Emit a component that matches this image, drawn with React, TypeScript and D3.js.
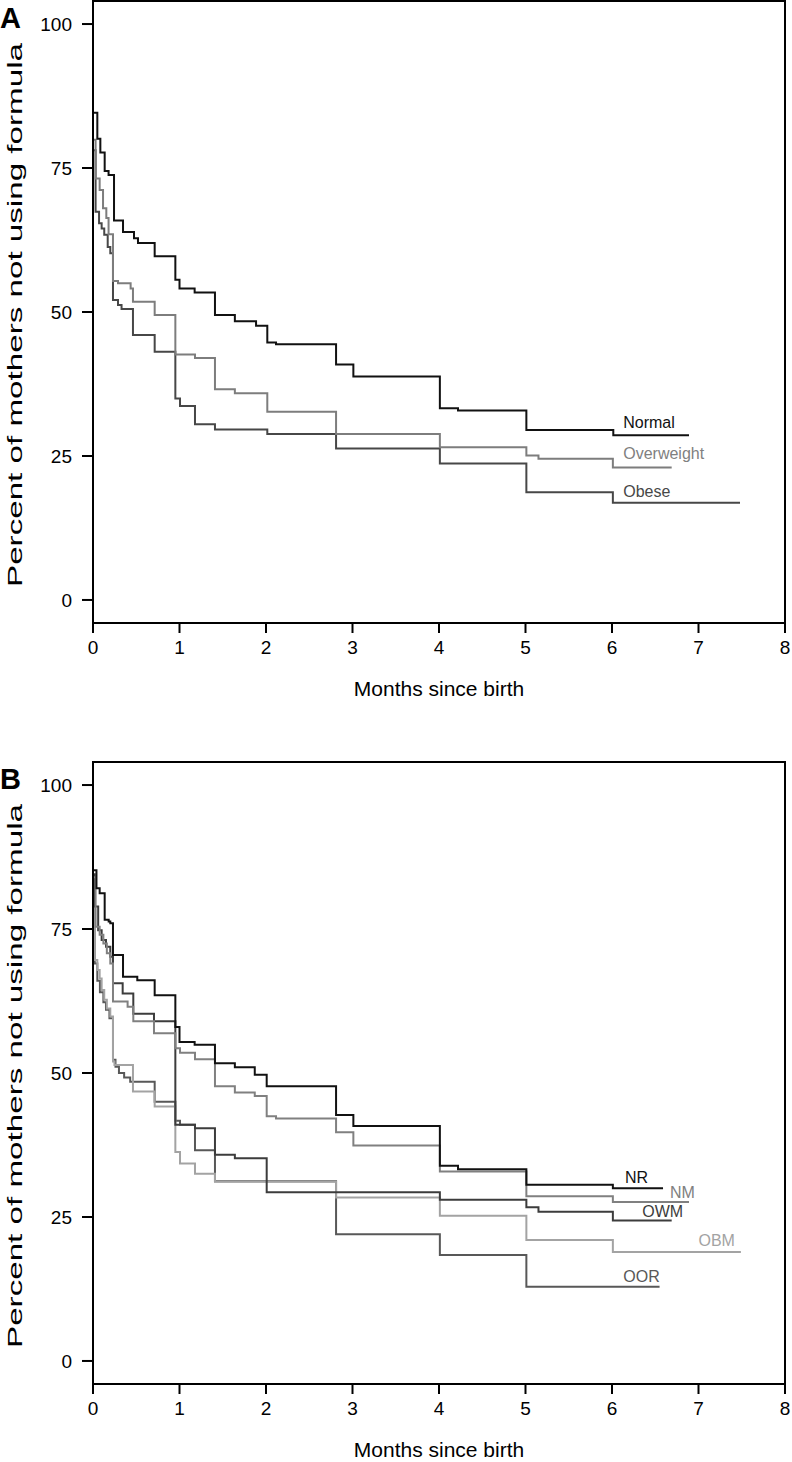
import React from "react";
import * as d3 from "d3";

// ---------- Data (months since birth, percent not using formula) ----------
const A_NORMAL_T = [0, 0.05, 0.085, 0.135, 0.18, 0.243, 0.347, 0.474, 0.52, 0.713, 0.952, 1.0, 1.175, 1.41, 1.64, 1.885, 2.015, 2.116, 2.81, 3.01, 4.01, 4.22, 5.01, 6.015, 6.89];
const A_NORMAL_V = [84.6, 80.1, 77.7, 74.5, 73.8, 65.9, 63.9, 62.8, 62.0, 59.7, 55.6, 54.1, 53.4, 49.5, 48.4, 47.6, 44.7, 44.4, 40.9, 38.8, 33.3, 32.9, 29.5, 28.6, 28.6];

const A_OVER_T = [0, 0.03, 0.077, 0.116, 0.154, 0.18, 0.231, 0.289, 0.435, 0.462, 0.713, 0.952, 1.179, 1.41, 1.64, 2.015, 2.81, 4.01, 5.01, 5.15, 6.01, 6.69];
const A_OVER_V = [79.9, 73.2, 71.2, 68.0, 66.3, 63.5, 55.4, 55.0, 54.1, 51.8, 49.5, 42.6, 42.0, 36.6, 35.9, 32.7, 28.8, 26.5, 25.1, 24.5, 23.0, 23.0];

const A_OBESE_T = [0, 0.03, 0.07, 0.1, 0.13, 0.17, 0.2, 0.231, 0.289, 0.33, 0.462, 0.713, 0.952, 1.006, 1.179, 1.41, 2.015, 2.81, 4.01, 5.01, 6.01, 7.48];
const A_OBESE_V = [78.1, 67.4, 65.4, 64.5, 63.4, 61.3, 60.2, 52.1, 51.2, 50.5, 46.0, 43.1, 35.0, 33.7, 30.5, 29.6, 28.8, 26.3, 23.7, 18.7, 16.9, 16.9];

const B_NR_T = [0, 0.04, 0.077, 0.135, 0.181, 0.2, 0.231, 0.347, 0.512, 0.713, 0.952, 1.0, 1.175, 1.41, 1.64, 1.87, 2.008, 2.81, 3.01, 4.01, 4.22, 5.01, 6.01, 6.59];
const B_NR_V = [85.2, 82.1, 81.2, 76.6, 76.3, 76.0, 70.5, 66.7, 66.1, 63.5, 58.0, 55.4, 54.9, 51.7, 51.0, 49.7, 47.7, 42.7, 40.8, 33.9, 33.3, 30.6, 30.0, 30.0];

const B_NM_T = [0, 0.03, 0.077, 0.12, 0.16, 0.2, 0.231, 0.4, 0.466, 0.705, 0.952, 1.006, 1.179, 1.41, 1.64, 1.87, 2.008, 2.116, 2.81, 3.01, 4.01, 5.01, 6.01, 6.89];
const B_NM_V = [84.0, 75.4, 74.0, 72.5, 70.8, 69.0, 62.4, 61.5, 59.0, 56.9, 54.3, 53.5, 52.4, 47.7, 46.6, 46.0, 42.5, 42.1, 39.7, 37.4, 32.9, 28.6, 27.6, 27.6];

const B_OWM_T = [0, 0.02, 0.06, 0.1, 0.15, 0.2, 0.231, 0.343, 0.466, 0.705, 0.952, 1.179, 1.41, 1.64, 2.008, 4.01, 5.01, 5.15, 6.01, 6.69];
const B_OWM_V = [84.5, 78.9, 74.8, 73.1, 71.9, 70.2, 65.6, 63.8, 60.3, 59.0, 41.0, 40.4, 35.8, 35.2, 29.3, 28.0, 26.7, 25.9, 24.4, 24.4];

const B_OBM_T = [0, 0.02, 0.05, 0.077, 0.1, 0.13, 0.16, 0.2, 0.231, 0.248, 0.462, 0.713, 0.952, 1.006, 1.179, 1.41, 2.81, 4.01, 5.01, 6.01, 7.49];
const B_OBM_V = [80.0, 69.6, 67.9, 66.4, 64.4, 62.7, 61.2, 59.8, 52.0, 51.4, 46.8, 44.2, 36.3, 34.3, 32.5, 31.1, 28.4, 25.2, 21.0, 18.9, 18.9];

const B_OOR_T = [0, 0.02, 0.05, 0.08, 0.12, 0.15, 0.19, 0.231, 0.26, 0.3, 0.36, 0.43, 0.713, 0.952, 1.006, 1.179, 1.41, 2.81, 4.01, 5.01, 6.55];
const B_OOR_V = [78.0, 69.0, 66.0, 64.0, 62.3, 61.0, 59.5, 52.3, 51.1, 50.0, 49.2, 48.5, 45.0, 41.7, 41.0, 36.6, 31.2, 22.0, 18.4, 12.9, 12.9];

const X_TICKS = [0, 1, 2, 3, 4, 5, 6, 7, 8];
const Y_TICKS = [0, 25, 50, 75, 100];
const X_TITLE = "Months since birth";
const Y_TITLE = "Percent of mothers not using formula";

// labels: name, anchor month, anchor percent (text start / baseline)
const A_LABELS = [
  { name: "Normal", t: 6.13, v: 29.9 },
  { name: "Overweight", t: 6.13, v: 24.5 },
  { name: "Obese", t: 6.13, v: 17.9 },
];
const B_LABELS = [
  { name: "NR", t: 6.15, v: 30.9 },
  { name: "NM", t: 6.67, v: 28.3 },
  { name: "OWM", t: 6.35, v: 25.0 },
  { name: "OBM", t: 7.0, v: 20.0 },
  { name: "OOR", t: 6.13, v: 13.7 },
];

const zip = (t: number[], v: number[]) => t.map((x, i) => [x, v[i]] as [number, number]);

const PANEL_A = {
  letter: "A",
  offset: 0,
  series: [
    { pts: zip(A_OBESE_T, A_OBESE_V), color: "#474747" },
    { pts: zip(A_OVER_T, A_OVER_V), color: "#7d7d7d" },
    { pts: zip(A_NORMAL_T, A_NORMAL_V), color: "#111111" },
  ],
  labels: A_LABELS.map((l, i) => ({ ...l, color: ["#111111", "#808080", "#474747"][i] })),
};
const PANEL_B = {
  letter: "B",
  offset: 761,
  series: [
    { pts: zip(B_OOR_T, B_OOR_V), color: "#585858" },
    { pts: zip(B_OBM_T, B_OBM_V), color: "#a3a3a3" },
    { pts: zip(B_OWM_T, B_OWM_V), color: "#3c3c3c" },
    { pts: zip(B_NM_T, B_NM_V), color: "#808080" },
    { pts: zip(B_NR_T, B_NR_V), color: "#111111" },
  ],
  labels: B_LABELS.map((l, i) => ({ ...l, color: ["#111111", "#808080", "#3c3c3c", "#a3a3a3", "#585858"][i] })),
};

const FONT = "'Liberation Sans', Arial, Helvetica, sans-serif";

function Panel({ panel }: { panel: typeof PANEL_A }) {
  const x = d3.scaleLinear().domain([0, 8]).range([93, 785]);
  const y = d3.scaleLinear().domain([-4, 104]).range([623 + panel.offset, 1 + panel.offset]);
  const line = d3
    .line<[number, number]>()
    .x((d) => x(d[0]))
    .y((d) => y(d[1]))
    .curve(d3.curveStepAfter);
  const [x0, x1] = x.range();
  const yb = y(-4);
  const yt = y(104);
  return (
    <g fontFamily={FONT}>
      <text x={0} y={y(100) + 4} fontSize={29} fontWeight="bold" fill="#000">
        {panel.letter}
      </text>
      {panel.series.map((s, i) => (
        <path key={i} d={line(s.pts) || ""} fill="none" stroke={s.color} strokeWidth={2} />
      ))}
      <rect x={x0} y={yt} width={x1 - x0} height={yb - yt} fill="none" stroke="#000" strokeWidth={2} />
      {Y_TICKS.map((v) => (
        <g key={v}>
          <line x1={x0 - 11} x2={x0} y1={y(v)} y2={y(v)} stroke="#000" strokeWidth={2} />
          <text x={x0 - 21} y={y(v) + 7} fontSize={19} textAnchor="end" fill="#000">
            {v}
          </text>
        </g>
      ))}
      {X_TICKS.map((v) => (
        <g key={v}>
          <line x1={x(v)} x2={x(v)} y1={yb} y2={yb + 10} stroke="#000" strokeWidth={2} />
          <text x={x(v)} y={yb + 31} fontSize={19} textAnchor="middle" fill="#000">
            {v}
          </text>
        </g>
      ))}
      <text x={(x0 + x1) / 2} y={yb + 73} fontSize={21} textAnchor="middle" fill="#000">
        {X_TITLE}
      </text>
      <text
        transform={`translate(22, ${y(50) + 3}) rotate(-90)`}
        fontSize={21}
        textAnchor="middle"
        textLength={544}
        lengthAdjust="spacingAndGlyphs"
        fill="#000"
      >
        {Y_TITLE}
      </text>
      {panel.labels.map((l) => (
        <text key={l.name} x={x(l.t)} y={y(l.v)} fontSize={16} fill={l.color}>
          {l.name}
        </text>
      ))}
    </g>
  );
}

export default function App() {
  return (
    <svg width={792} height={1462} style={{ display: "block", position: "absolute", left: 0, top: 0, background: "#fff" }}>
      <rect x={0} y={0} width={792} height={1462} fill="#fff" />
      <Panel panel={PANEL_A} />
      <Panel panel={PANEL_B} />
    </svg>
  );
}
